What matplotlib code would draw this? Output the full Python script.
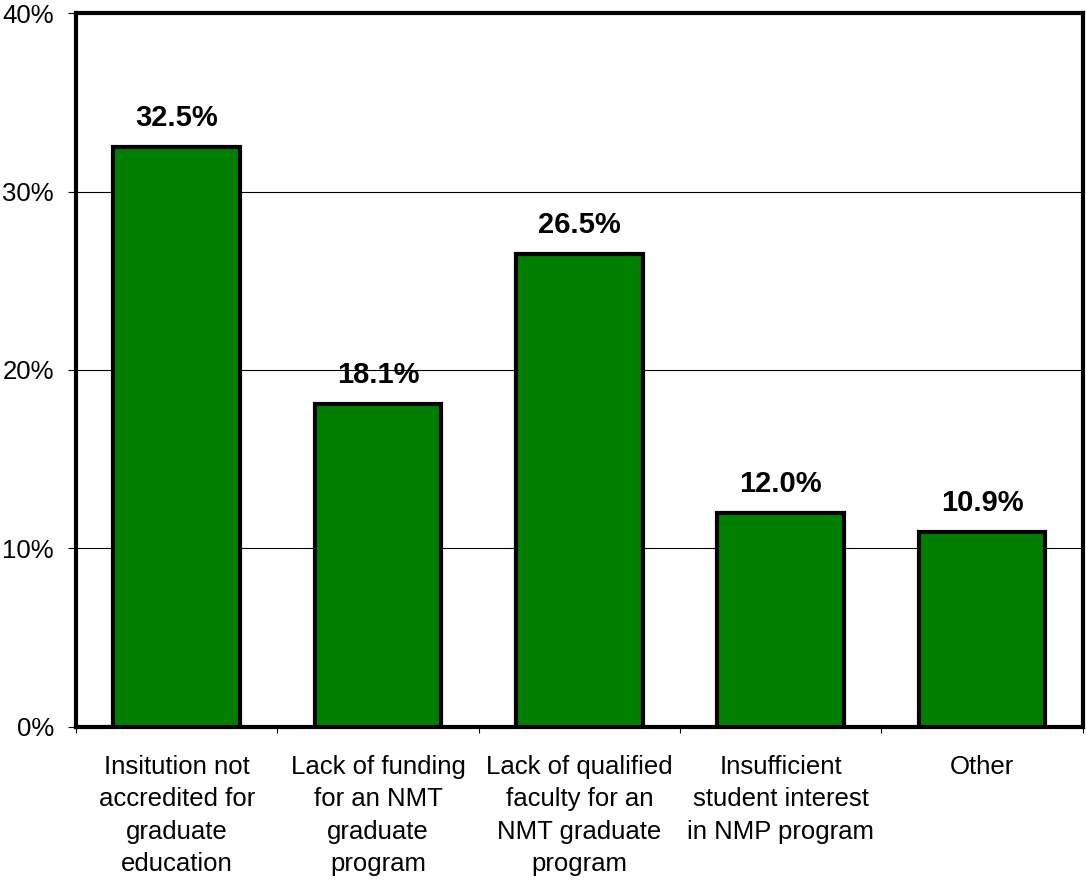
import matplotlib
matplotlib.use("Agg")
import matplotlib.pyplot as plt
from matplotlib.ticker import FuncFormatter

plt.rcParams['font.family'] = ['Liberation Sans', 'DejaVu Sans']

categories = ['Insitution not\naccredited for\ngraduate\neducation',
              'Lack of funding\nfor an NMT\ngraduate\nprogram',
              'Lack of qualified\nfaculty for an\nNMT graduate\nprogram',
              'Insufficient\nstudent interest\nin NMP program',
              'Other']
values = [32.5, 18.1, 26.5, 12.0, 10.9]

fig = plt.figure(figsize=(10.86, 8.82), dpi=100)
ax = fig.add_axes([0.070, 0.176, 0.927, 0.809])

x = range(len(values))
bars = ax.bar(x, values, width=0.63, color='#008000', edgecolor='black',
              linewidth=3.0, zorder=3)
for xi, v in zip(x, values):
    ax.text(xi, v + 0.85, f'{v:.1f}%', ha='center', va='bottom',
            fontsize=21, fontweight='bold', zorder=4)

ax.set_xlim(-0.5, len(values) - 0.5)
ax.set_ylim(0, 40)
ax.set_yticks([0, 10, 20, 30, 40])
ax.yaxis.set_major_formatter(FuncFormatter(lambda v, p: f'{v:.0f}%'))
ax.yaxis.grid(True, color='black', linewidth=0.8, zorder=0)
ax.set_axisbelow(True)

# category labels between boundary ticks
ax.set_xticks([i - 0.5 for i in range(len(values) + 1)])
ax.set_xticklabels([])
ax.set_xticks(list(x), minor=True)
ax.set_xticklabels(categories, minor=True, fontsize=18.5, linespacing=1.45)
ax.tick_params(axis='x', which='minor', length=0, pad=20)
ax.tick_params(axis='x', which='major', length=4, width=0.8, direction='out')
ax.tick_params(axis='y', labelsize=18.5, length=6, width=0.8, pad=10)
for lbl in ax.get_xticklabels(minor=True):
    lbl.set_verticalalignment('top')
    lbl.set_horizontalalignment('center')

for s in ax.spines.values():
    s.set_linewidth(3.0)

fig.savefig('out.png', dpi=100, facecolor='white')
